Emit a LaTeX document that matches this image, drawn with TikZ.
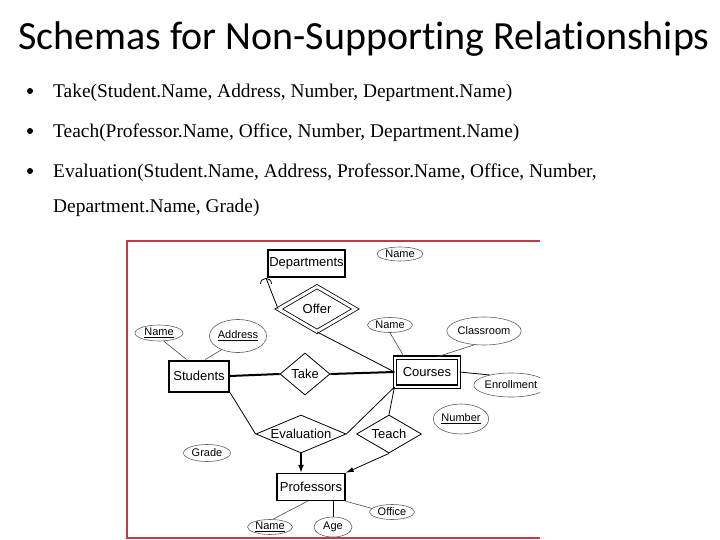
\documentclass[tikz,border=0pt]{standalone}
\usepackage{fontspec}
\setmainfont{Liberation Serif}
\newfontfamily\titlefont[Ligatures={NoCommon},RawFeature={-liga;-dlig}]{Carlito}
\newfontfamily\diafont{Liberation Sans}
\usetikzlibrary{shapes.geometric,arrows.meta,calc}
\definecolor{framered}{RGB}{190,60,70}
\begin{document}
\begin{tikzpicture}[x=1pt,y=-1pt,
  ent/.style={draw,line width=1.4pt,rectangle,inner sep=0pt,font=\diafont\fontsize{13}{15}\selectfont},
  rel/.style={draw,line width=0.8pt,diamond,inner sep=0pt,font=\diafont\fontsize{13}{15}\selectfont},
  attr/.style={draw=gray!75!black,line width=0.6pt,ellipse,inner sep=0pt,font=\diafont\fontsize{11}{13}\selectfont},
  ln/.style={line width=0.8pt},
  thk/.style={line width=2pt},
  aln/.style={draw=gray!60!black,line width=0.6pt},
  bul/.style={anchor=base west,inner sep=0pt,font=\fontsize{19.4}{23}\selectfont},
  dot/.style={circle,fill,inner sep=0pt,minimum size=6pt}]
\useasboundingbox (0,0) rectangle (720,540);

% header
\node[anchor=base west,inner sep=0pt,font=\titlefont\fontsize{40}{48}\selectfont] (title) at (18,50) {Schemas for Non-Supporting Relationships};
\node[dot] (d1) at (30,91) {};
\node[dot] (d2) at (30,131) {};
\node[dot] (d3) at (30,171) {};
\node[bul] (b1) at (53,98) {Take(Student.Name, Address, Number, Department.Name)};
\node[bul] (b2) at (53,138) {Teach(Professor.Name, Office, Number, Department.Name)};
\node[bul] (b3) at (53,178) {Evaluation(Student.Name, Address, Professor.Name, Office, Number,};
\node[bul] (b4) at (53,212) {Department.Name, Grade)};

% frame
\draw[framered,line width=1.5pt] (540,241) -- (127,241) -- (127,538) -- (540,538);

% entities
\node[ent,minimum width=77,minimum height=27] (dept) at (306.5,263.5) {Departments};
\node[ent,double,double distance=2pt,line width=1.2pt,minimum width=64,minimum height=29] (courses) at (427,372) {Courses};
\node[ent,line width=2pt,minimum width=60,minimum height=31] (students) at (199,376) {Students};
\node[ent,minimum width=68,minimum height=27] (prof) at (311,487) {Professors};

% relationships
\node[rel,double,double distance=3pt,minimum width=77,minimum height=45,aspect=1.65] (offer) at (317,309) {Offer};
\node[rel,minimum width=50,minimum height=42,aspect=1.2] (take) at (305,374) {Take};
\node[rel,minimum width=90,minimum height=38,aspect=2.37] (eval) at (301,434) {Evaluation};
\node[rel,minimum width=65,minimum height=38,aspect=1.7] (teach) at (389,434) {Teach};

% attributes
\node[attr,minimum width=46,minimum height=14] (dname) at (400,254) {Name};
\node[attr,minimum width=45,minimum height=15] (cname) at (390,325) {Name};
\node[attr,minimum width=67,minimum height=28] (classroom) at (484,331) {Classroom};
\begin{scope}
\clip (0,0) rectangle (540,540);
\node[attr,minimum width=70,minimum height=24] (enroll) at (511,385) {Enrollment};
\end{scope}
\node[attr,minimum width=50,minimum height=30] (number) at (461,419) {\underline{Number}};
\node[attr,minimum width=48,minimum height=16] (sname) at (159,333) {\underline{Name}};
\node[attr,minimum width=55,minimum height=33] (address) at (238,336) {\underline{Address}};
\node[attr,minimum width=47,minimum height=17] (grade) at (207,453) {Grade};
\node[attr,minimum width=45,minimum height=15] (pname) at (270,527) {\underline{Name}};
\node[attr,minimum width=38,minimum height=20] (age) at (333,527) {Age};
\node[attr,minimum width=45,minimum height=15] (office) at (392,512) {Office};

% connectors
\coordinate (dtip) at (266,278);
\draw[ln] (offer.west) -- (dtip);
\draw[ln] ($(dtip)+(-5.5,6)$) .. controls ($(dtip)+(-5.5,-1.5)$) and ($(dtip)+(5.5,-1.5)$) .. ($(dtip)+(5.5,6)$);
\draw[ln] (offer.south) -- (courses.west);
\draw[thk] (students.east) -- (take.west);
\draw[thk] (take.east) -- (courses.west);
\draw[ln] (students.south east) -- (eval.west);
\draw[ln] (eval.east) -- (courses.south west);
\draw[ln] (teach.north) -- (courses.south west);
\draw[line width=1.5pt,-{Latex[length=8pt,width=6pt]}] (eval.south) -- (eval.south |- prof.north);
\draw[ln,-{Latex[length=8pt,width=5pt]}] (teach.south) -- (prof.north east);
\draw[ln] (courses.east) -- (enroll.155);
\draw[aln] (cname.south) -- ($(courses.north west)!0.15!(courses.north east)$);
\draw[aln] (classroom.235) -- ($(courses.north west)!0.65!(courses.north east)$);
\draw[aln] (sname.300) -- ($(students.north west)!0.3!(students.north east)$);
\draw[aln] (address.220) -- ($(students.north west)!0.6!(students.north east)$);
\draw[aln] ($(prof.south west)!0.45!(prof.south east)$) -- (pname.70);
\draw[ln] (prof.south -| age.north) -- (age.north);
\draw[aln] (prof.south east) -- (office.170);
\end{tikzpicture}
\end{document}
